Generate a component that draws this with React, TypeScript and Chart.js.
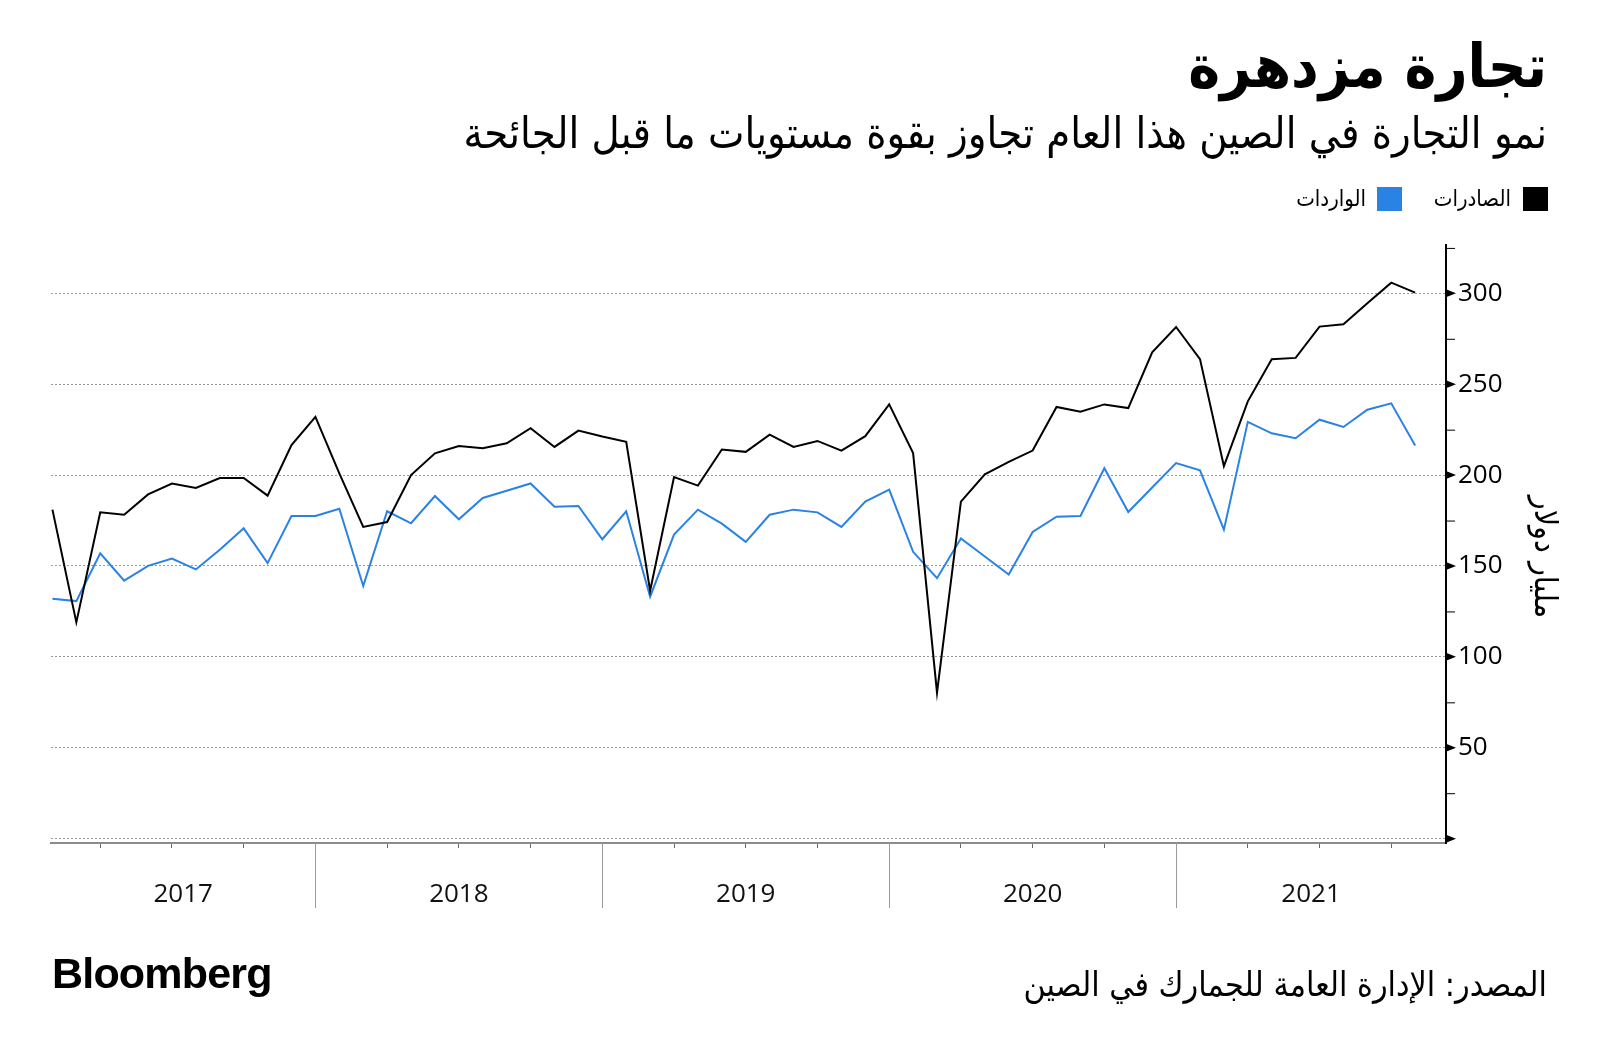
import React, { useEffect, useRef } from 'react';
import { Chart, registerables } from 'chart.js';

Chart.register(...registerables);

// Monthly data, Jan 2017 – Oct 2021 (billion USD)
const months = [
  '2017-01','2017-02','2017-03','2017-04','2017-05','2017-06','2017-07','2017-08','2017-09','2017-10','2017-11','2017-12',
  '2018-01','2018-02','2018-03','2018-04','2018-05','2018-06','2018-07','2018-08','2018-09','2018-10','2018-11','2018-12',
  '2019-01','2019-02','2019-03','2019-04','2019-05','2019-06','2019-07','2019-08','2019-09','2019-10','2019-11','2019-12',
  '2020-01','2020-02','2020-03','2020-04','2020-05','2020-06','2020-07','2020-08','2020-09','2020-10','2020-11','2020-12',
  '2021-01','2021-02','2021-03','2021-04','2021-05','2021-06','2021-07','2021-08','2021-09','2021-10',
];

const exportsBn = [
  181, 119, 179.5, 178.2, 189.4, 195.4, 192.9, 198.4, 198.4, 188.7, 216.5, 232,
  201, 171.5, 174.2, 200, 212, 216, 214.8, 217.5, 225.8, 215.5, 224.5, 221.2,
  218.3, 136.4, 198.9, 194.2, 214.1, 212.8, 222.3, 215.5, 218.8, 213.5, 221.4, 238.9,
  212.1, 80.3, 185.4, 200.4, 207.3, 213.5, 237.5, 234.9, 238.9, 236.9, 267.5, 281.5,
  263.8, 204.9, 240.6, 263.8, 264.5, 281.7, 283, 294.5, 305.9, 300.4,
];

const importsBn = [
  132, 130.7, 157, 141.9, 150.1, 154.1, 148.1, 158.9, 170.7, 151.6, 177.5, 177.5,
  181.5, 139, 180.1, 173.5, 188.5, 175.7, 187.4, 191.4, 195.4, 182.6, 183, 164.7,
  180.1, 133.1, 167.3, 181, 173.3, 163.3, 178.2, 181, 179.5, 171.5, 185.4, 192,
  157.8, 143.3, 165.1, 155.2, 145.3, 168.7, 177.1, 177.5, 203.8, 179.7, 193.2, 206.6,
  202.6, 170, 229.3, 223, 220.3, 230.5, 226.5, 236, 239.5, 216.3,
];

const yearLabels = ['2017', '2018', '2019', '2020', '2021'];
const yTickValues = [0, 25, 50, 75, 100, 125, 150, 175, 200, 225, 250, 275, 300, 325];
const yLabelValues = [50, 100, 150, 200, 250, 300];

const seriesNames = ['الصادرات', 'الواردات'];
const seriesColors = ['#000000', '#2a82e4'];

const X_MIN = -0.06;
const X_MAX = 58.29;
const Y_MIN = -2.4;
const Y_MAX = 326.6;

const quarterTicks = months
  .map((m, i) => ({ m: m.slice(5), i }))
  .filter((o) => ['03', '06', '09', '12'].includes(o.m))
  .map((o) => o.i);
const yearEndTicks = months
  .map((m, i) => ({ m: m.slice(5), i }))
  .filter((o) => o.m === '12')
  .map((o) => o.i);

const decorPlugin = {
  id: 'decor',
  afterDraw(chart: any) {
    const { ctx } = chart;
    const xs = chart.scales.x;
    const ys = chart.scales.y;
    const axisX = ys.left;
    ctx.save();
    // y-axis tick marks: triangles at labelled values, short lines at others
    ctx.fillStyle = '#000';
    ctx.strokeStyle = '#000';
    ctx.lineWidth = 1;
    yTickValues.forEach((v) => {
      const py = ys.getPixelForValue(v);
      if (v % 50 === 0) {
        ctx.beginPath();
        ctx.moveTo(axisX, py - 4);
        ctx.lineTo(axisX + 10, py);
        ctx.lineTo(axisX, py + 4);
        ctx.closePath();
        ctx.fill();
      } else {
        ctx.beginPath();
        ctx.moveTo(axisX, py + 0.5);
        ctx.lineTo(axisX + 9, py + 0.5);
        ctx.stroke();
      }
    });
    // year separators
    const axisY = xs.top;
    ctx.strokeStyle = '#9a9a9a';
    ctx.lineWidth = 1;
    yearEndTicks.forEach((i) => {
      const px = Math.round(xs.getPixelForValue(i)) + 0.5;
      ctx.beginPath();
      ctx.moveTo(px, axisY);
      ctx.lineTo(px, axisY + 65);
      ctx.stroke();
    });
    // year labels centred in the visible part of each year
    ctx.fillStyle = '#111';
    ctx.font = '26px "Open Sans"';
    ctx.textAlign = 'center';
    ctx.textBaseline = 'alphabetic';
    yearLabels.forEach((yl, k) => {
      const start = Math.max(12 * k - 1, X_MIN);
      const end = Math.min(12 * k + 11, X_MAX);
      const px = xs.getPixelForValue((start + end) / 2);
      ctx.fillText(yl, px, axisY + 59);
    });
    // y-axis title
    ctx.save();
    ctx.translate(ys.right - 57, (ys.top + ys.bottom) / 2 + 13);
    ctx.rotate(Math.PI / 2);
    ctx.font = '32px "DejaVu Sans Condensed"';
    ctx.textAlign = 'center';
    ctx.textBaseline = 'middle';
    ctx.fillStyle = '#000';
    ctx.fillText('مليار دولار', 0, 0);
    ctx.restore();
    ctx.restore();
  },
};

export default function App() {
  const ref = useRef<HTMLCanvasElement>(null);

  useEffect(() => {
    const canvas = ref.current;
    if (!canvas) return;
    const chart = new Chart(canvas, {
      type: 'line',
      data: {
        datasets: [
          {
            label: seriesNames[0],
            data: exportsBn.map((v, i) => ({ x: i, y: v })),
            borderColor: seriesColors[0],
            borderWidth: 2,
            pointRadius: 0,
            tension: 0,
          },
          {
            label: seriesNames[1],
            data: importsBn.map((v, i) => ({ x: i, y: v })),
            borderColor: seriesColors[1],
            borderWidth: 2,
            pointRadius: 0,
            tension: 0,
          },
        ],
      },
      options: {
        responsive: false,
        animation: false,
        devicePixelRatio: 1,
        layout: { padding: { left: 51, top: 245, right: 0, bottom: 140 } },
        plugins: { legend: { display: false }, tooltip: { enabled: false } },
        scales: {
          x: {
            type: 'linear',
            position: 'bottom',
            min: X_MIN,
            max: X_MAX,
            afterBuildTicks: (s: any) => {
              s.ticks = quarterTicks.map((v) => ({ value: v }));
            },
            ticks: { display: false },
            grid: {
              display: true,
              drawOnChartArea: false,
              drawTicks: true,
              tickLength: 5,
              tickColor: '#666',
              tickWidth: 1,
            },
            border: { display: true, color: '#8c8c8c', width: 2 },
            afterFit: (s: any) => {
              s.height = 70;
            },
          },
          y: {
            type: 'linear',
            position: 'right',
            min: Y_MIN,
            max: Y_MAX,
            afterBuildTicks: (s: any) => {
              s.ticks = yTickValues.map((v) => ({ value: v }));
            },
            ticks: {
              callback: (v: any) => (yLabelValues.includes(Number(v)) ? String(v) : ''),
              font: { family: '"Open Sans"', size: 26 },
              color: '#000',
              padding: 2,
            },
            grid: {
              color: (c: any) =>
                c.tick && c.tick.value % 50 === 0 ? '#9a9a9a' : 'rgba(0,0,0,0)',
              lineWidth: 1,
              drawTicks: true,
              tickLength: 10,
              tickColor: 'rgba(0,0,0,0)',
            },
            border: { display: true, color: '#000', width: 2, dash: [2, 2] },
            afterFit: (s: any) => {
              s.width = 154;
            },
          },
        },
      } as any,
      plugins: [decorPlugin],
    });
    return () => chart.destroy();
  }, []);

  const arabic = '"DejaVu Sans Condensed", "DejaVu Sans", sans-serif';

  return (
    <div
      style={{
        position: 'absolute',
        left: 0,
        top: 0,
        width: 1600,
        height: 1053,
        background: '#fff',
        overflow: 'hidden',
      }}
    >
      <canvas
        ref={ref}
        width={1600}
        height={1053}
        style={{ position: 'absolute', left: 0, top: 0, width: 1600, height: 1053 }}
      />
      <div
        dir="rtl"
        style={{
          position: 'absolute',
          right: 53,
          top: 26,
          fontFamily: arabic,
          fontWeight: 'bold',
          fontSize: 60,
          lineHeight: '80px',
          color: '#000',
          whiteSpace: 'nowrap',
        }}
      >
        تجارة مزدهرة
      </div>
      <div
        dir="rtl"
        style={{
          position: 'absolute',
          right: 53,
          top: 105,
          fontFamily: arabic,
          fontSize: 43,
          lineHeight: '56px',
          color: '#000',
          whiteSpace: 'nowrap',
        }}
      >
        نمو التجارة في الصين هذا العام تجاوز بقوة مستويات ما قبل الجائحة
      </div>
      {/* legend */}
      <div style={{ position: 'absolute', left: 1523, top: 187, width: 25, height: 24, background: seriesColors[0] }} />
      <div
        dir="rtl"
        style={{
          position: 'absolute',
          right: 1600 - 1511,
          top: 184,
          fontFamily: arabic,
          fontSize: 22,
          lineHeight: '30px',
          color: '#000',
          whiteSpace: 'nowrap',
        }}
      >
        {seriesNames[0]}
      </div>
      <div style={{ position: 'absolute', left: 1377, top: 187, width: 25, height: 24, background: seriesColors[1] }} />
      <div
        dir="rtl"
        style={{
          position: 'absolute',
          right: 1600 - 1366,
          top: 184,
          fontFamily: arabic,
          fontSize: 22,
          lineHeight: '30px',
          color: '#000',
          whiteSpace: 'nowrap',
        }}
      >
        {seriesNames[1]}
      </div>
      {/* footer */}
      <div
        style={{
          position: 'absolute',
          left: 52,
          top: 948,
          fontFamily: '"Liberation Sans", Arial, sans-serif',
          fontWeight: 900,
          fontSize: 43,
          lineHeight: '50px',
          letterSpacing: -0.8,
          color: '#000',
          whiteSpace: 'nowrap',
        }}
      >
        Bloomberg
      </div>
      <div
        dir="rtl"
        style={{
          position: 'absolute',
          right: 53,
          top: 962,
          fontFamily: arabic,
          fontSize: 33.7,
          lineHeight: '46px',
          color: '#000',
          whiteSpace: 'nowrap',
        }}
      >
        المصدر: الإدارة العامة للجمارك في الصين
      </div>
    </div>
  );
}
